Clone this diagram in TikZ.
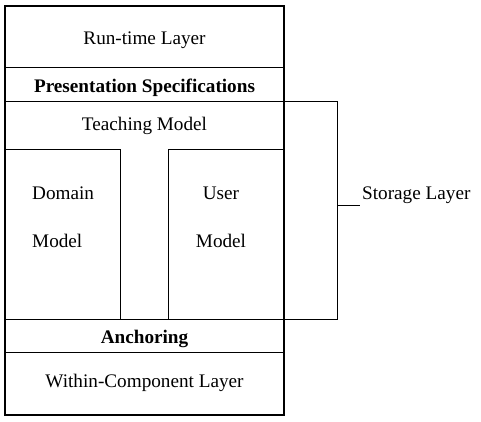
\documentclass[tikz,border=0pt]{standalone}
\usepackage{fontspec}
\setmainfont{Liberation Serif}
\begin{document}
\begin{tikzpicture}[x=1pt,y=-1pt,
  thin line/.style={line width=1pt},
  thick line/.style={line width=2pt},
  lbl/.style={anchor=base,inner sep=0pt,font=\fontsize{19.2}{23}\selectfont},
  blbl/.style={lbl,font=\fontsize{19.2}{23}\selectfont\bfseries}]
\useasboundingbox (0,0) rectangle (481,422);
% storage bracket
\coordinate (bt) at (284,102);
\coordinate (bb) at (284,319);
\draw[thin line] (bt) -- (337,102) coordinate (btr) -- (337,319) coordinate (bbr) -- (bb);
% horizontal separators
\draw[thin line] (5,68) coordinate (s1l) -- (284,68) coordinate (s1r);
\draw[thin line] (5,102) coordinate (s2l) -- (bt);
\draw[thin line] (5,319) coordinate (s3l) -- (bb);
\draw[thin line] (5,352) coordinate (s4l) -- (284,352) coordinate (s4r);
% inner boxes
\draw[thin line] (5,150) -- (120.5,150) -- (120.5,319);
\draw[thin line] (284,150) -- (168.5,150) -- (168.5,319);
% outer frame
\draw[thick line] (5,6) rectangle (284,414.5);
% storage tick
\coordinate (tk) at (337,205);
\node[lbl,anchor=base west] (storage) at (362,199.5) {Storage Layer};
\draw[thin line] (tk) -- (360,205);
% labels
\node[lbl] (run) at (144.5,45) {Run-time Layer};
\node[blbl] (pres) at (144.5,92.5) {Presentation Specifications};
\node[lbl] (teach) at (144.5,131) {Teaching Model};
\node[lbl,anchor=base west] (dom1) at (32,199.5) {Domain};
\node[lbl,anchor=base west] (dom2) at (32,247.5) {Model};
\node[lbl] (usr1) at (221,199.5) {User};
\node[lbl] (usr2) at (221,247.5) {Model};
\node[blbl] (anch) at (144.5,343.5) {Anchoring};
\node[lbl] (within) at (144.5,387.5) {Within-Component Layer};
\end{tikzpicture}
\end{document}
